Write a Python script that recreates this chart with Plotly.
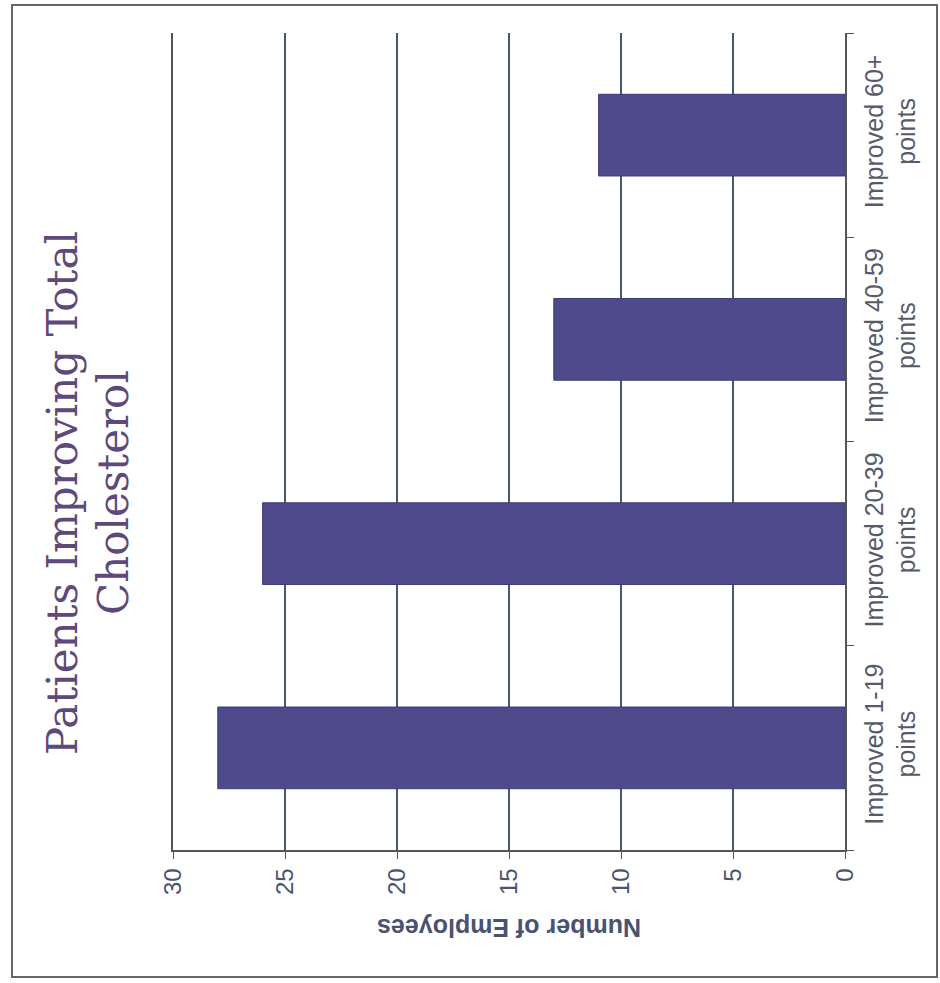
import plotly.graph_objects as go

# Chart data
categories = [
    "Improved 1-19<br>points",
    "Improved 20-39<br>points",
    "Improved 40-59<br>points",
    "Improved 60+<br>points",
]
employees = [28, 26, 13, 11]
value_ticks = [0, 5, 10, 15, 20, 25, 30]

title_lines = ["Patients Improving Total", "Cholesterol"]
axis_title = "Number of Employees"

# Page geometry (pixels)
W, H = 940, 983
L, R, T, B = 173, 845, 33, 850


def px(x):
    return (x - L) / (R - L)


def py(y):
    return (B - y) / (B - T)


grid_col = "#4a566c"
bar_col = "#4e4a8c"
tick_font = dict(family="Liberation Sans, Arial, sans-serif", size=24, color="#4a5272")

fig = go.Figure(
    go.Bar(
        x=employees,
        y=categories,
        orientation="h",
        width=0.4,
        marker=dict(color=bar_col, line=dict(color="#3e3b78", width=1)),
        showlegend=False,
    )
)

fig.update_layout(
    width=W,
    height=H,
    margin=dict(l=L, r=W - R, t=T, b=H - B),
    paper_bgcolor="white",
    plot_bgcolor="white",
    bargap=0.6,
    xaxis=dict(
        range=[30, 0],
        tickvals=value_ticks,
        ticktext=[str(v) for v in value_ticks],
        tickangle=-90,
        tickfont=tick_font,
        ticks="outside",
        ticklen=7,
        tickcolor="#555",
        showline=True,
        linecolor="#555",
        linewidth=1.5,
        showgrid=True,
        gridcolor=grid_col,
        gridwidth=1.5,
        zeroline=False,
        fixedrange=True,
    ),
    yaxis=dict(
        side="right",
        categoryorder="array",
        categoryarray=categories,
        tickangle=-90,
        tickfont=dict(family="Liberation Sans, Arial, sans-serif", size=25, color="#555b6b"),
        ticks="outside",
        tickson="boundaries",
        ticklen=7,
        tickcolor="#555",
        ticklabelstandoff=6,
        showline=True,
        mirror=True,
        linecolor="#555",
        linewidth=1.5,
        showgrid=False,
        zeroline=False,
        fixedrange=True,
    ),
)

# Title, set vertically in two lines
title_font = dict(family="DejaVu Serif, serif", size=42, color="#5e4a7a")
for line, xc in zip(title_lines, [62, 113]):
    fig.add_annotation(
        text=line,
        x=px(xc),
        y=py(493),
        xref="paper",
        yref="paper",
        xanchor="center",
        yanchor="middle",
        textangle=-90,
        showarrow=False,
        font=title_font,
    )

# Value axis title, upside down
fig.add_annotation(
    text="<b>" + axis_title + "</b>",
    x=px(509),
    y=py(928),
    xref="paper",
    yref="paper",
    xanchor="center",
    yanchor="middle",
    textangle=180,
    showarrow=False,
    font=dict(family="Liberation Sans, Arial, sans-serif", size=25, color="#4a5272"),
)

# Page frame
fig.add_shape(
    type="rect",
    xref="paper",
    yref="paper",
    x0=px(12),
    x1=px(937),
    y0=py(977),
    y1=py(5),
    line=dict(color="#666", width=2),
    layer="below",
)

fig.write_html("out.html")
